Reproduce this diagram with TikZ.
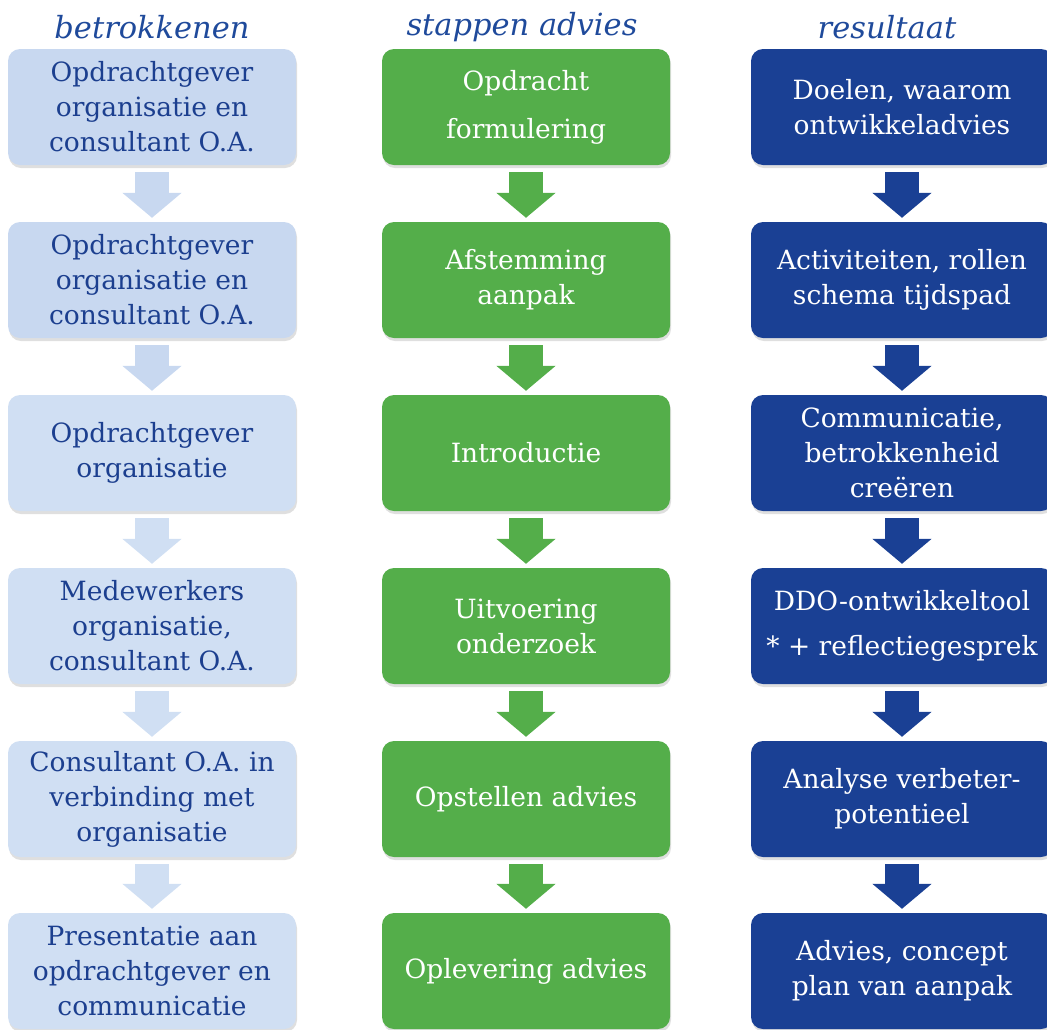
\documentclass[tikz,border=0pt]{standalone}
\usepackage{fontspec}
\setmainfont{DejaVu Serif}
\usepackage{xcolor}
\usetikzlibrary{arrows.meta, shadows}

\definecolor{kopblauw}{HTML}{1F4A9B}
\definecolor{tekstblauw}{HTML}{1C3F8F}
\definecolor{lichtblauw}{HTML}{C8D8F0}
\definecolor{bleekblauw}{HTML}{D0DFF3}
\definecolor{groen}{HTML}{54AE4A}
\definecolor{donkerblauw}{HTML}{1A4094}

\begin{document}
\begin{tikzpicture}[x=1pt, y=-1pt,
    kop/.style={font=\fontsize{30.5}{34}\selectfont\itshape, text=kopblauw},
    box/.style={rounded corners=12pt, minimum width=288pt, minimum height=116pt,
        align=center, font=\fontsize{26.5}{35}\selectfont,
        drop shadow={shadow xshift=1pt, shadow yshift=-3pt, opacity=0.25}},
    betr/.style={box, fill=lichtblauw, text=tekstblauw},
    betrb/.style={box, fill=bleekblauw, text=tekstblauw},
    stap/.style={box, fill=groen, text=white},
    res/.style={box, fill=donkerblauw, text=white, minimum width=302pt},
    pijl/.style={line width=34pt, -{Triangle[width=58pt, length=25pt]},
        shorten <=7pt, shorten >=4pt},
]
    \useasboundingbox (0, 0) rectangle (1047, 1029);

    % kolomkoppen
    \node[kop] at (152, 27) (k1) {betrokkenen};
    \node[kop] at (522, 27) (k2) {stappen advies};
    \node[kop] at (887, 27) (k3) {resultaat};

    % betrokkenen
    \node[betr] at (152, 107) (b1) {Opdrachtgever\\organisatie en\\consultant O.A.};
    \node[betr] at (152, 280) (b2) {Opdrachtgever\\organisatie en\\consultant O.A.};
    \node[betrb] at (152, 453) (b3) {Opdrachtgever\\organisatie};
    \node[betrb] at (152, 626) (b4) {Medewerkers\\organisatie,\\consultant O.A.};
    \node[betrb] at (152, 799) (b5) {Consultant O.A. in\\verbinding met\\organisatie};
    \node[betrb] at (152, 971) (b6) {Presentatie aan\\opdrachtgever en\\communicatie};

    % stappen advies
    \node[stap] at (526, 107) (s1) {Opdracht\\[13pt]formulering};
    \node[stap] at (526, 280) (s2) {Afstemming\\aanpak};
    \node[stap] at (526, 453) (s3) {Introductie};
    \node[stap] at (526, 626) (s4) {Uitvoering\\onderzoek};
    \node[stap] at (526, 799) (s5) {Opstellen advies};
    \node[stap] at (526, 971) (s6) {Oplevering advies};

    % resultaat
    \node[res] at (902, 107) (r1) {Doelen, waarom\\ontwikkeladvies};
    \node[res] at (902, 280) (r2) {Activiteiten, rollen\\schema tijdspad};
    \node[res] at (902, 453) (r3) {Communicatie,\\betrokkenheid\\creëren};
    \node[res] at (902, 626) (r4) {DDO-ontwikkeltool\\[10pt]* + reflectiegesprek};
    \node[res] at (902, 799) (r5) {Analyse verbeter-\\potentieel};
    \node[res] at (902, 971) (r6) {Advies, concept\\plan van aanpak};

    \draw[pijl, lichtblauw] (b1) -- (b2);
    \draw[pijl, lichtblauw] (b2) -- (b3);
    \draw[pijl, bleekblauw] (b3) -- (b4);
    \draw[pijl, bleekblauw] (b4) -- (b5);
    \draw[pijl, bleekblauw] (b5) -- (b6);

    \draw[pijl, groen] (s1) -- (s2);
    \draw[pijl, groen] (s2) -- (s3);
    \draw[pijl, groen] (s3) -- (s4);
    \draw[pijl, groen] (s4) -- (s5);
    \draw[pijl, groen] (s5) -- (s6);

    \draw[pijl, donkerblauw] (r1) -- (r2);
    \draw[pijl, donkerblauw] (r2) -- (r3);
    \draw[pijl, donkerblauw] (r3) -- (r4);
    \draw[pijl, donkerblauw] (r4) -- (r5);
    \draw[pijl, donkerblauw] (r5) -- (r6);
\end{tikzpicture}
\end{document}
